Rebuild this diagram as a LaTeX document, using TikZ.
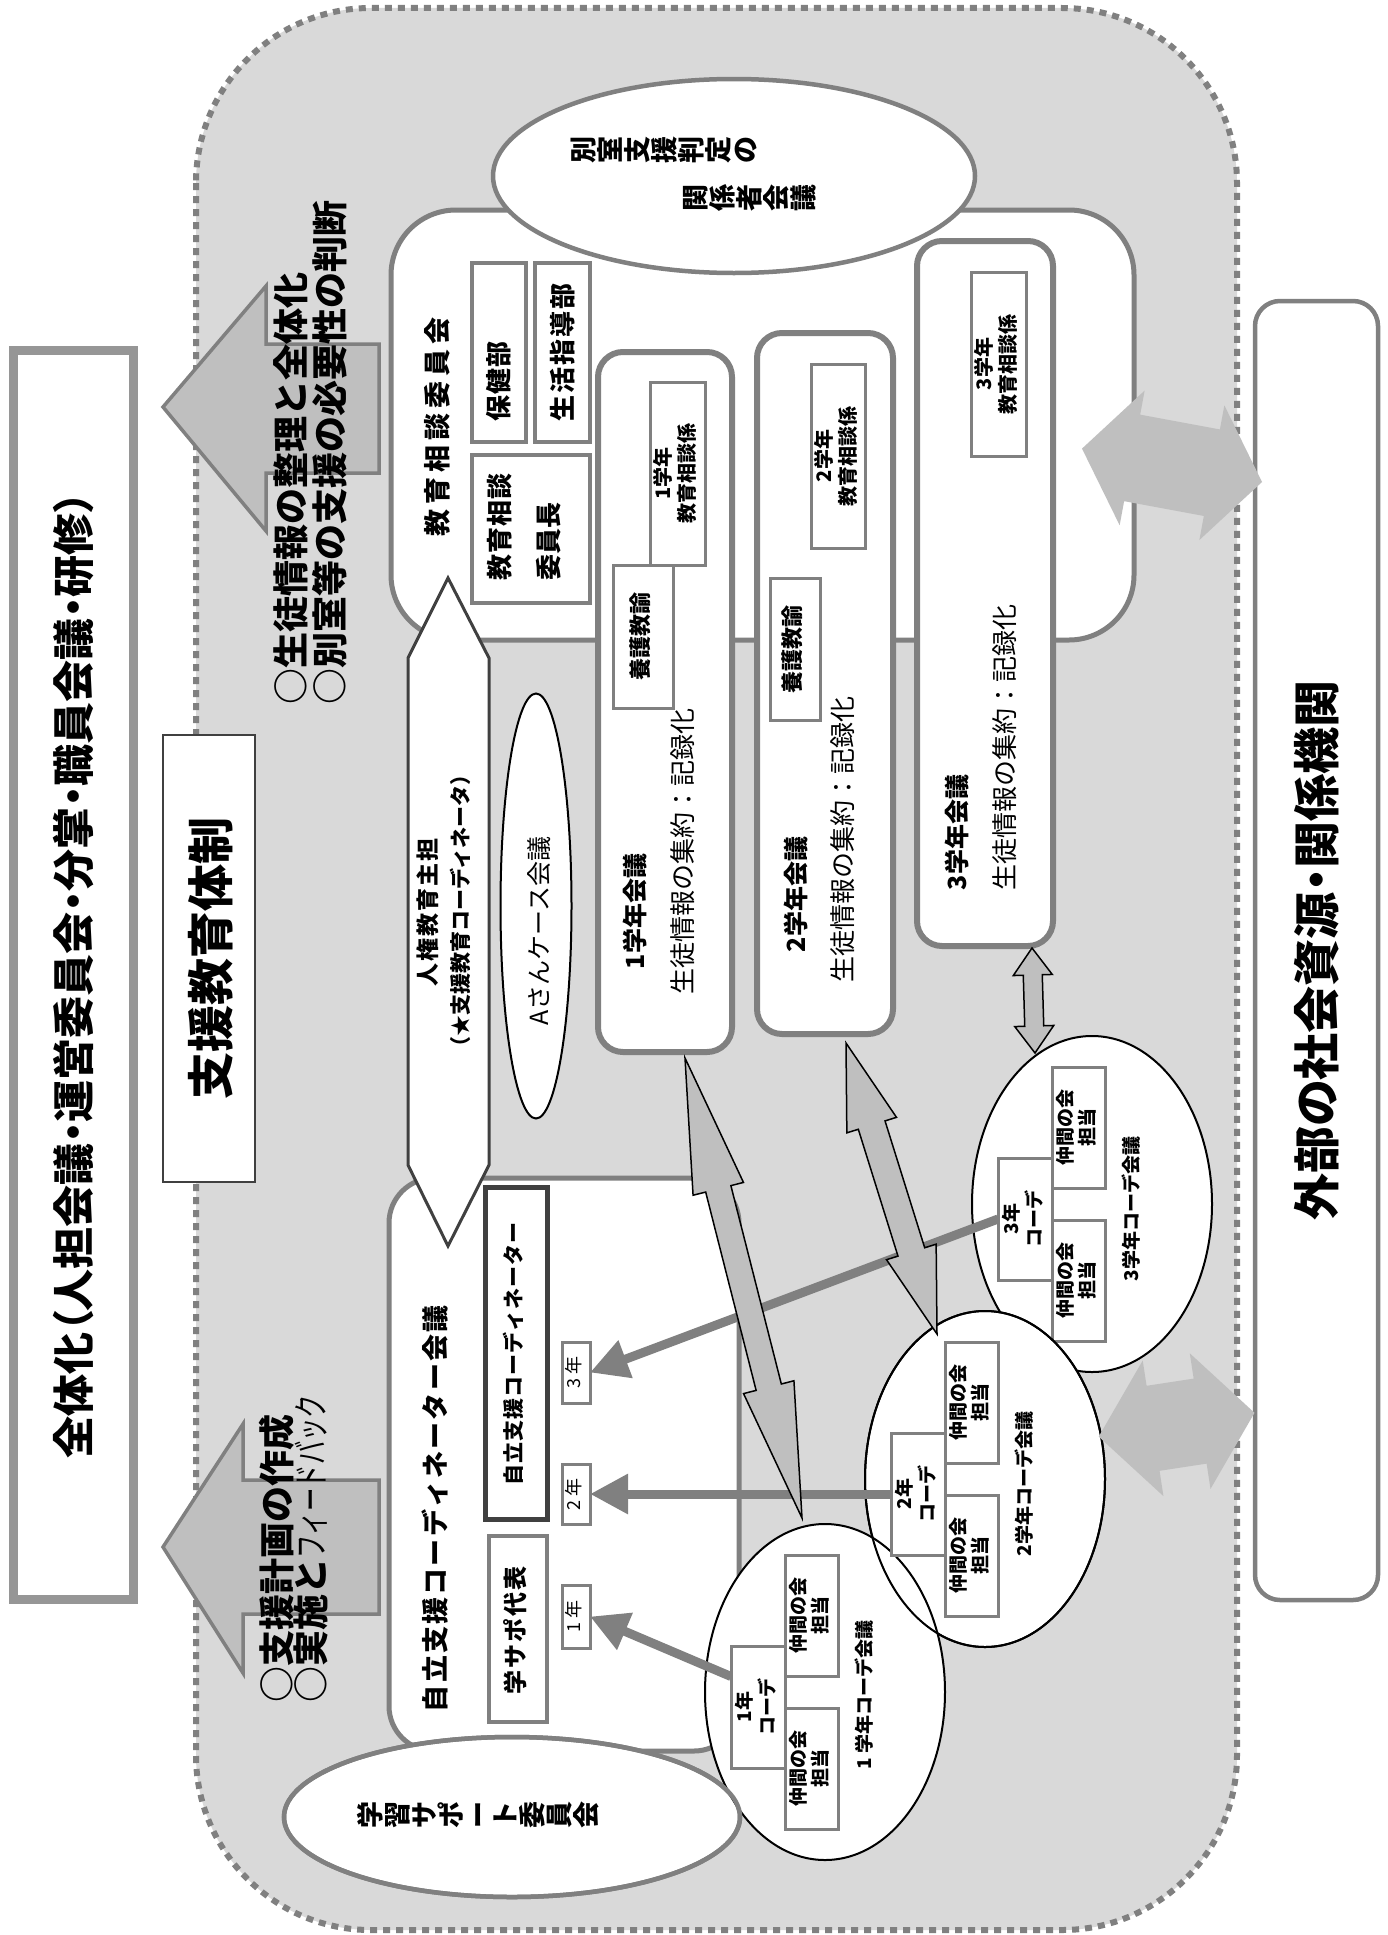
\documentclass[tikz,border=0pt]{standalone}
\usepackage{fontspec}
\setmainfont{Noto Sans CJK JP}
\usepackage{graphicx}
\usetikzlibrary{arrows.meta,calc,shapes.geometric}
\definecolor{regionfill}{RGB}{217,217,217}
\definecolor{cgray}{RGB}{128,128,128}
\definecolor{bgray}{RGB}{150,150,150}
\definecolor{lgray}{RGB}{191,191,191}
\definecolor{dgray}{RGB}{64,64,64}
\newcommand\fsz[2]{\fontsize{#1pt}{#2pt}\selectfont}
\newcommand\tatechar[1]{\rotatebox[origin=c]{90}{\makebox[1em][c]{\rule[-0.12em]{0pt}{1em}#1}}}
\def\tatetext#1{\tateloop#1\relax}
\def\tateloop#1{\ifx#1\relax\else\tatechar{#1}\expandafter\tateloop\fi}
\def\spaced#1#2{\def\spgap{#1}\sploop#2\relax}
\def\sploop#1{\ifx#1\relax\else#1\kern\spgap\expandafter\sploop\fi}
\newcommand\rt[1]{\rotatebox{90}{\begin{tabular}{@{}c@{}}#1\end{tabular}}}
\newcommand\dblarrow[6]{%
 \draw[#6] (#1)
  -- ($(#1)!#3!(#2)!#4!90:(#2)$)
  -- ($(#1)!#3!(#2)!#5!90:(#2)$)
  -- ($(#2)!#3!(#1)!#5!-90:(#1)$)
  -- ($(#2)!#3!(#1)!#4!-90:(#1)$)
  -- (#2)
  -- ($(#2)!#3!(#1)!#4!90:(#1)$)
  -- ($(#2)!#3!(#1)!#5!90:(#1)$)
  -- ($(#1)!#3!(#2)!#5!-90:(#2)$)
  -- ($(#1)!#3!(#2)!#4!-90:(#2)$)
  -- cycle;}
\tikzset{
 every node/.style={inner sep=0pt, outer sep=0pt},
 gbox/.style={rectangle, draw=cgray, line width=3.5pt, fill=white},
 rtext/.style={rotate=90, anchor=west},
 gradebox/.style={rectangle, draw=cgray, line width=6pt, fill=white, rounded corners=25pt},
 coordell/.style={ellipse, draw=black, line width=2pt, fill=white, minimum width=240pt, minimum height=336pt},
 thickarr/.style={draw=cgray, line width=9pt, -{Triangle[length=38pt,width=38pt]}},
 dbl/.style={fill=lgray, draw=black, line width=1.5pt, line join=miter},
 bigarr/.style={fill=lgray, draw=cgray, line width=3.5pt},
}
\newcommand\coordinner[5]{%
 \node[gbox, line width=3pt, minimum width=54pt, minimum height=122pt, font=\bfseries\fsz{19}{21}] (#1c) at (#2-67,#3+15) {\rt{#5\\コーデ}};
 \node[gbox, line width=3pt, minimum width=53pt, minimum height=121pt, font=\bfseries\fsz{19}{21}] (#1u) at (#2-13.5,#3-76.5) {\rt{仲間の会\\担当}};
 \node[gbox, line width=3pt, minimum width=53pt, minimum height=121pt, font=\bfseries\fsz{19}{21}] (#1l) at (#2-13.5,#3+76.5) {\rt{仲間の会\\担当}};
 \node[rtext, font=\bfseries\fsz{19}{21}] (#1t) at (#2+39,#3+77) {#4};
}
\begin{document}
\begin{tikzpicture}[x=1pt,y=-1pt]
\useasboundingbox (0,0) rectangle (1388,1935);
% outer region
\draw[fill=regionfill, draw=cgray, line width=6pt, dash pattern=on 7pt off 6pt, rounded corners=175pt] (196,8) rectangle (1237,1930);
% left box
\node[draw=bgray, line width=9pt, fill=white, minimum width=120pt, minimum height=1249pt] (lbox) at (73.5,975) {};
\node[rotate=90, font=\bfseries\fsz{42}{46}\addfontfeatures{RawFeature=+palt}] (ltitle) at (73.5,975) {全体化（人担会議・運営委員会・分掌・職員会議・研修）};
% support box
\node[draw=dgray, line width=2.5pt, fill=white, minimum width=92pt, minimum height=447pt] (sbox) at (209,958.5) {};
\node[rotate=90, font=\bfseries\fsz{47}{52}] (stitle) at (211,958.5) {支援教育体制};
% left block arrows
\draw[bigarr] (163,407) -- (266,286) -- (266,344) -- (379,344) -- (379,473) -- (266,473) -- (266,531) -- cycle;
\draw[bigarr] (163,1547) -- (243,1424) -- (243,1480) -- (379,1480) -- (379,1614) -- (243,1614) -- (243,1673) -- cycle;
\node[rtext, font=\bfseries\fsz{36}{40}] (st1) at (291,704) {○生徒情報の整理と全体化};
\node[rtext, font=\bfseries\fsz{36}{40}] (st2) at (330,704) {○別室等の支援の必要性の判断};
\node[rtext, font=\bfseries\fsz{36}{40}] (st3) at (277,1702) {○支援計画の作成};
\node[rtext, font=\bfseries\fsz{36}{40}] (st4) at (311,1702) {○実施と{\mdseries\scalebox{0.65}[1]{フィードバック}}};
% top box
\node[rectangle, draw=cgray, line width=5pt, fill=white, rounded corners=65pt, minimum width=743pt, minimum height=430pt] (tbox) at (762.5,425) {};
\node[rtext, font=\bfseries\fsz{27}{30}] (tboxt) at (437,536) {\spaced{5pt}{教育相談委員会}};
\node[gbox, minimum width=54pt, minimum height=179pt] (hoken) at (499,352.5) {};
\node[rtext, font=\bfseries\fsz{26}{30}] (hokent) at (499,421) {\spaced{1pt}{保健部}};
\node[gbox, minimum width=55pt, minimum height=179pt] (seikatsu) at (562.5,352.5) {};
\node[rtext, font=\bfseries\fsz{26}{30}] (seikatsut) at (562.5,421) {\spaced{2pt}{生活指導部}};
\node[gbox, minimum width=118pt, minimum height=148pt] (iincho) at (531,529) {};
\node[rtext, font=\bfseries\fsz{26}{30}] (iincho1) at (500,580) {\spaced{1pt}{教育相談}};
\node[rtext, font=\bfseries\fsz{26}{30}] (iincho2) at (549,580) {委員長};
% top ellipse
\node[ellipse, draw=cgray, line width=4.5pt, fill=white, minimum width=482pt, minimum height=194pt] (tell) at (734,176) {};
\node[anchor=west, font=\bfseries\fsz{27}{30}] (tell1) at (570,150) {\tatetext{別室支援判定の}};
\node[anchor=west, font=\bfseries\fsz{27}{30}] (tell2) at (682,198) {\tatetext{関係者会議}};
% grade boxes
\node[gradebox, minimum width=134pt, minimum height=700pt] (g1) at (665,702) {};
\node[gradebox, minimum width=136pt, minimum height=701pt] (g2) at (825,683.5) {};
\node[gradebox, minimum width=136pt, minimum height=705pt] (g3) at (985,593.5) {};
\node[gbox, line width=3pt, minimum width=55pt, minimum height=183pt, font=\bfseries\fsz{20}{22}] (k1) at (677.5,473.5) {\rt{1学年\\教育相談係}};
\node[gbox, line width=3pt, minimum width=60pt, minimum height=143pt, font=\bfseries\fsz{22}{24}] (y1n) at (643,636.5) {\rt{養護教諭}};
\node[gbox, line width=3pt, minimum width=54pt, minimum height=184pt, font=\bfseries\fsz{20}{22}] (k2) at (838,456) {\rt{2学年\\教育相談係}};
\node[gbox, line width=3pt, minimum width=50pt, minimum height=142pt, font=\bfseries\fsz{22}{24}] (y2n) at (795,649) {\rt{養護教諭}};
\node[gbox, line width=3pt, minimum width=55pt, minimum height=184pt, font=\bfseries\fsz{20}{22}] (k3) at (998.5,364) {\rt{3学年\\教育相談係}};
\node[rtext, font=\bfseries\fsz{25}{28}] (g1t) at (635,969) {1学年会議};
\node[rtext, font=\fsz{26}{28}] (g1i) at (683,994) {生徒情報の集約：記録化};
\node[rtext, font=\bfseries\fsz{25}{28}] (g2t) at (796,952) {2学年会議};
\node[rtext, font=\fsz{26}{28}] (g2i) at (843,982) {生徒情報の集約：記録化};
\node[rtext, font=\bfseries\fsz{25}{28}] (g3t) at (957,890) {3学年会議};
\node[rtext, font=\fsz{26}{28}] (g3i) at (1005,890) {生徒情報の集約：記録化};
% bottom box
\node[rectangle, draw=cgray, line width=5pt, fill=white, rounded corners=45pt, minimum width=350pt, minimum height=573pt] (bbox) at (564,1464.5) {};
\node[rtext, font=\bfseries\fsz{27}{30}] (bboxt) at (435,1712) {\spaced{2.2pt}{自立支援コーディネーター会議}};
\node[rectangle, draw=dgray, line width=5pt, fill=white, minimum width=62pt, minimum height=332pt, font=\bfseries\fsz{21}{24}] (jiritsu) at (516,1353) {\rt{\spaced{1pt}{自立支援コーディネーター}}};
\node[gbox, minimum width=58pt, minimum height=186pt, font=\bfseries\fsz{24}{26}] (gakusapo) at (518,1629) {\rt{\spaced{2pt}{学サポ代表}}};
\node[gbox, line width=3pt, minimum width=28pt, minimum height=61pt, font=\fsz{18}{20}] (y3) at (576,1372.5) {\rt{3 年}};
\node[gbox, line width=3pt, minimum width=28pt, minimum height=60pt, font=\fsz{18}{20}] (y2) at (576,1494) {\rt{2 年}};
\node[gbox, line width=3pt, minimum width=28pt, minimum height=63pt, font=\fsz{18}{20}] (y1) at (576,1616.5) {\rt{1 年}};
% A case ellipse
\node[ellipse, draw=black, line width=2pt, fill=white, minimum width=71pt, minimum height=425pt] (aell) at (536,906) {};
\node[rotate=90, font=\fsz{25}{28}] (aellt) at (539,931) {Aさんケース会議};
% white up-down arrow
\draw[fill=white, draw=dgray, line width=3pt] (448,578) -- (489,658) -- (489,1165) -- (448,1246) -- (408,1165) -- (408,658) -- cycle;
\node[font=\bfseries\fsz{22}{32}] (jinken) at (446,911) {\rt{{\fsz{23}{32}\spaced{2pt}{人権教育主担}}\\{\fsz{21}{32}（★支援教育コーディネータ）}}};
% learning support ellipse (fill)
\node[ellipse, draw=cgray, line width=4.5pt, fill=white, minimum width=456pt, minimum height=160pt] (gell) at (512,1817) {};
\node[anchor=west, font=\bfseries\fsz{27}{30}] (gellt) at (357,1815) {\tatetext{学習サポート委員会}};
% coordinator ellipses
\node[coordell] (e3) at (1092,1204) {};
\coordinner{c3}{1092}{1204}{3学年コーデ会議}{3年}
\node[coordell] (e2) at (985,1479) {};
\node[coordell] (e1) at (825,1692) {};
\node[coordell, fill=none] (e2o) at (985,1479) {};
\node[ellipse, draw=cgray, line width=4.5pt, minimum width=456pt, minimum height=160pt] (gello) at (512,1817) {};
\coordinner{c2}{985}{1479}{2学年コーデ会議}{2年}
\coordinner{c1}{825}{1692}{1 学年コーデ会議}{1年}
% thick arrows
\draw[thickarr] (c3c.west) -- (y3.east);
\draw[thickarr] (c2c.west) -- (y2.east);
\draw[thickarr] ($(c1c.north west)!0.25!(c1c.south west)$) -- (y1.east);
% double arrows
\coordinate (da1s) at (685,1058);
\coordinate (da1e) at (802,1518);
\dblarrow{da1s}{da1e}{135pt}{26pt}{13pt}{dbl}
\coordinate (da2s) at (846,1043);
\coordinate (da2e) at (937,1334);
\dblarrow{da2s}{da2e}{86pt}{26pt}{14pt}{dbl}
\coordinate (da3s) at (1032,948);
\coordinate (da3e) at (1035,1053);
\dblarrow{da3s}{da3e}{27pt}{19.5pt}{9.5pt}{dbl}
% right box
\node[rectangle, draw=cgray, line width=4.5pt, fill=white, rounded corners=25pt, minimum width=123pt, minimum height=1299pt] (rbox) at (1316.5,950.5) {};
\node[rotate=90, font=\bfseries\fsz{47}{50}\addfontfeatures{RawFeature=+palt}] (rboxt) at (1316.5,950.5) {外部の社会資源・関係機関};
% right arrows
\coordinate (ra1s) at (1082,448.6);
\coordinate (ra1e) at (1262,482);
\dblarrow{ra1s}{ra1e}{51pt}{68.5pt}{44pt}{fill=lgray, draw=none}
\coordinate (ra2s) at (1098.7,1436.6);
\coordinate (ra2e) at (1254.5,1412.8);
\dblarrow{ra2s}{ra2e}{55pt}{68.6pt}{43pt}{fill=lgray, draw=none}
\end{tikzpicture}
\end{document}
